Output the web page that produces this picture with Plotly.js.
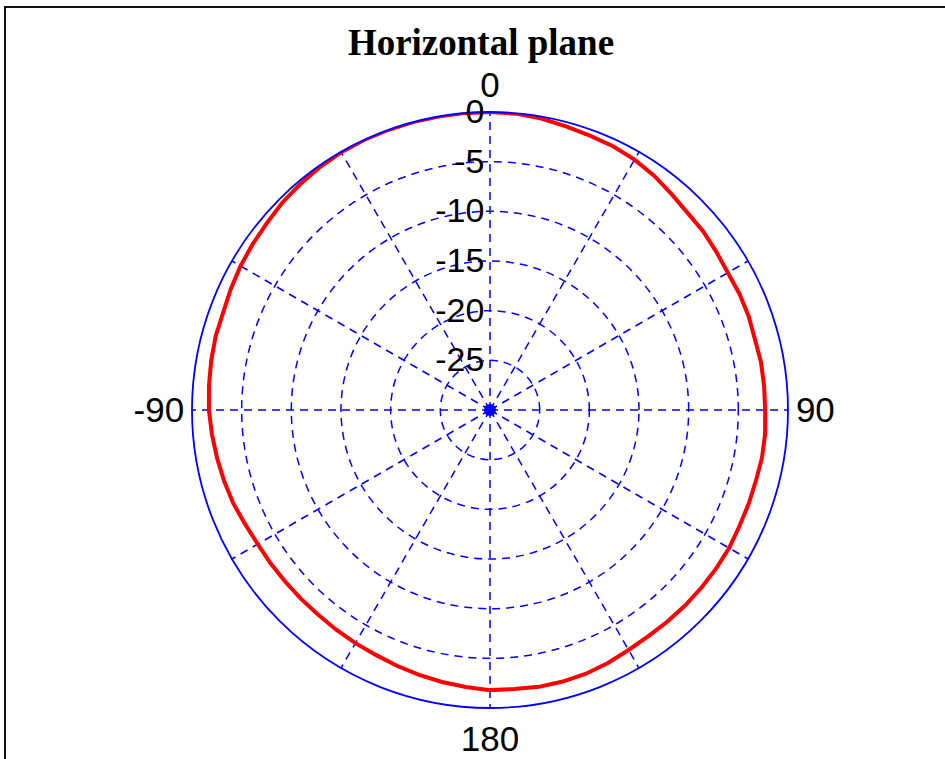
<!DOCTYPE html>
<html>
<head>
<meta charset="utf-8">
<script src="https://cdn.plot.ly/plotly-3.0.1.min.js"></script>
<style>
html,body{margin:0;padding:0;background:#fff;}
#chart{width:945px;height:759px;}
</style>
</head>
<body>
<div id="chart"></div>
<script>
// Pattern angles (degrees, clockwise from top) and gain in dB
var angles = [0,5,10,15,20,25,30,35,40,45,50,55,60,65,70,75,80,85,90,95,100,105,110,115,120,125,130,135,140,145,150,155,160,165,170,175,180,185,190,195,200,205,210,215,220,225,230,235,240,245,250,255,260,265,270,275,280,285,290,295,300,305,310,315,320,325,330,335,340,345,350,355,360];
var gainDb = [0,-0.05,-0.2,-0.45,-0.6,-0.7,-0.9,-1.2,-1.6,-1.9,-2.0,-2.2,-2.35,-2.3,-2.3,-2.4,-2.3,-2.3,-2.3,-2.2,-2.2,-2.3,-2.3,-2.3,-2.2,-2.2,-2.2,-2.2,-2.2,-2.2,-2.1,-1.9,-1.75,-1.7,-1.7,-1.8,-1.8,-2.0,-2.2,-2.4,-2.6,-2.8,-2.9,-3.0,-3.1,-3.1,-3.1,-3.05,-3.0,-2.8,-2.5,-2.3,-2.1,-1.9,-1.7,-1.6,-1.5,-1.4,-1.4,-1.2,-1.0,-0.85,-0.7,-0.45,-0.3,-0.15,-0.05,0,0,0,0,0,0];

var angTickVals = [0,30,60,90,120,150,180,210,240,270,300,330];
var angTickText = ['0','','','90','','','180','','','-90','',''];
var radTickVals = [-25,-20,-15,-10,-5,0];
var radTickText = ['-25','-20','-15','-10','-5','0'];
var radRange = [-30, 0];

var W = 945, H = 759;
var cx = 490, cy = 410, R = 298;

var traces = [
  {
    type: 'scatterpolar',
    r: gainDb,
    theta: angles,
    mode: 'lines',
    line: {color: '#ff0000', width: 4},
    hoverinfo: 'skip'
  },
  {
    type: 'scatterpolar',
    r: [radRange[0]],
    theta: [0],
    mode: 'markers',
    marker: {color: '#0000ff', size: 12},
    hoverinfo: 'skip'
  }
];

var layout = {
  width: W, height: H,
  margin: {l: 0, r: 0, t: 0, b: 0},
  paper_bgcolor: '#ffffff',
  showlegend: false,
  title: {
    text: '<b>Horizontal plane</b>',
    font: {family: 'Liberation Serif, Times New Roman, serif', size: 37, color: '#000'},
    x: 481 / W, xanchor: 'center',
    y: 1 - 42 / H, yanchor: 'middle'
  },
  polar: {
    domain: {x: [(cx - R) / W, (cx + R) / W], y: [(H - cy - R) / H, (H - cy + R) / H]},
    bgcolor: '#ffffff',
    angularaxis: {
      rotation: 90,
      direction: 'clockwise',
      tickmode: 'array',
      tickvals: angTickVals,
      ticktext: angTickText,
      ticks: '',
      showline: true,
      linecolor: '#0000ff',
      linewidth: 1.8,
      gridcolor: '#0000ff',
      gridwidth: 1.5,
      griddash: '8px,6px',
      tickfont: {family: 'Liberation Sans, Arial, sans-serif', size: 35, color: '#000'}
    },
    radialaxis: {
      range: radRange,
      angle: 90,
      side: 'counterclockwise',
      tickmode: 'array',
      tickvals: radTickVals,
      ticktext: radTickText,
      ticks: '',
      showline: false,
      gridcolor: '#0000ff',
      gridwidth: 1.5,
      griddash: '8px,6px',
      tickangle: 90,
      tickfont: {family: 'Liberation Sans, Arial, sans-serif', size: 34, color: '#000'}
    }
  },
  shapes: [
    {type: 'line', xref: 'paper', yref: 'paper', x0: 4 / W, x1: 1, y0: 1 - 7 / H, y1: 1 - 7 / H, line: {color: '#111', width: 2}},
    {type: 'line', xref: 'paper', yref: 'paper', x0: 5 / W, x1: 5 / W, y0: 0, y1: 1 - 6 / H, line: {color: '#111', width: 2}}
  ]
};

Plotly.newPlot('chart', traces, layout, {displayModeBar: false, staticPlot: true});
</script>
</body>
</html>
